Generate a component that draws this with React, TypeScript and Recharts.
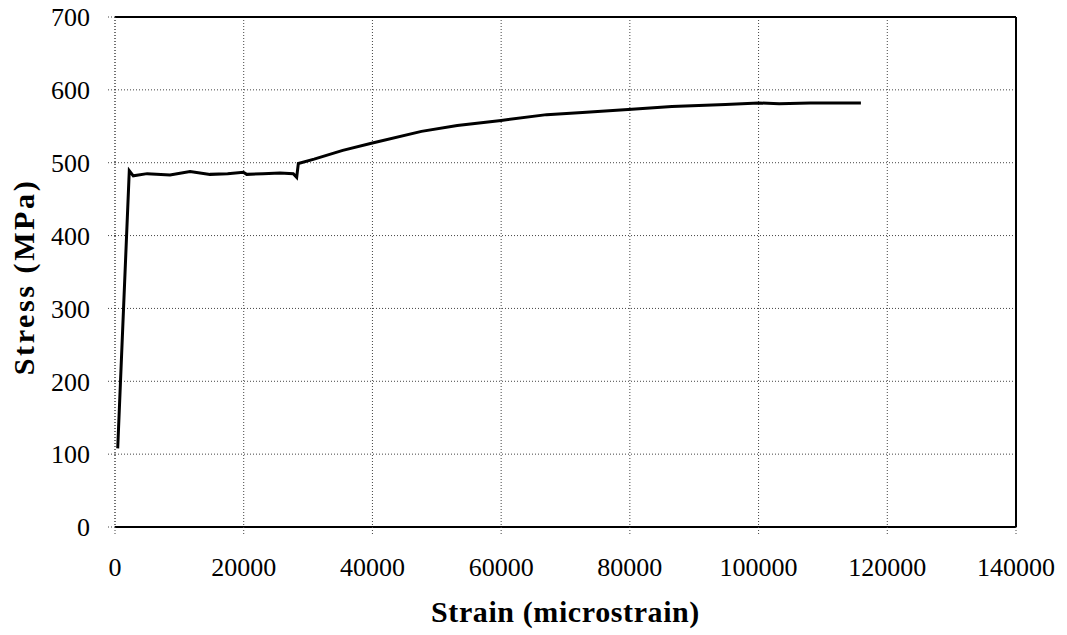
import React from 'react';
import {
  LineChart,
  Line,
  XAxis,
  YAxis,
  CartesianGrid,
  ReferenceLine,
  Label,
} from 'recharts';

// strain (microstrain) vs stress (MPa)
const strainValues = [
  420, 2220, 2840, 5000, 8550, 11660, 14760, 17500, 19940, 20470, 23000, 25640,
  27700, 28230, 28490, 30940, 35390, 40000, 47620, 53180, 60000, 67070, 72640,
  80300, 86530, 94870, 100000, 103200, 108000, 115900,
];
const stressValues = [
  108, 489, 482, 485, 483, 488, 484, 485, 487, 484, 485, 486,
  485, 480, 499, 505, 517, 527, 543, 551, 558, 566, 569,
  573.5, 577, 580, 582, 581, 582, 582,
];

const xTicks = [0, 20000, 40000, 60000, 80000, 100000, 120000, 140000];
const yTicks = [0, 100, 200, 300, 400, 500, 600, 700];

const FONT = "'Liberation Serif', 'Times New Roman', 'DejaVu Serif', serif";

const data = strainValues.map((s, i) => ({ strain: s, stress: stressValues[i] }));

const tickStyle = { fill: '#000', fontSize: 26 };

const XTitle = ({ viewBox }: any) => {
  const { x, y, width } = viewBox;
  return (
    <text
      x={x + width / 2}
      y={y + 95}
      textAnchor="middle"
      fontWeight="bold"
      fontSize={30}
      letterSpacing={0.6}
      fill="#000"
    >
      Strain (microstrain)
    </text>
  );
};

const YTitle = ({ viewBox }: any) => {
  const { x, y, height } = viewBox;
  const cx = x + 34;
  const cy = y + height / 2 + 5;
  return (
    <text
      x={cx}
      y={cy}
      transform={`rotate(-90, ${cx}, ${cy})`}
      textAnchor="middle"
      fontWeight="bold"
      fontSize={30}
      letterSpacing={2.6}
      fill="#000"
    >
      Stress (MPa)
    </text>
  );
};

export default function App() {
  return (
    <div style={{ position: 'absolute', left: 0, top: 0, background: '#fff' }}>
      <style>{`.stress-chart text { font-family: ${FONT} !important; }`}</style>
      <LineChart
        className="stress-chart"
        width={1067}
        height={635}
        data={data}
        margin={{ top: 17, right: 51, left: 0, bottom: 0 }}
      >
        <CartesianGrid
          stroke="#444"
          strokeDasharray="1 2"
          horizontalValues={yTicks}
          verticalValues={xTicks}
        />
        <XAxis
          dataKey="strain"
          type="number"
          domain={[0, 140000]}
          ticks={xTicks}
          interval={0}
          height={108}
          tick={tickStyle}
          tickSize={7}
          tickMargin={24}
          axisLine={{ stroke: '#000', strokeWidth: 2 }}
          tickLine={{ stroke: '#444', strokeDasharray: '1 2' }}
        >
          <Label content={<XTitle />} />
        </XAxis>
        <YAxis
          type="number"
          domain={[0, 700]}
          ticks={yTicks}
          interval={0}
          width={115}
          tick={tickStyle}
          tickSize={7}
          tickMargin={18}
          axisLine={{ stroke: '#444', strokeDasharray: '1 2' }}
          tickLine={{ stroke: '#444', strokeDasharray: '1 2' }}
        >
          <Label content={<YTitle />} />
        </YAxis>
        <ReferenceLine y={700} stroke="#000" strokeWidth={2} />
        <ReferenceLine x={140000} stroke="#000" strokeWidth={2} />
        <Line
          type="linear"
          dataKey="stress"
          stroke="#000"
          strokeWidth={3}
          dot={false}
          isAnimationActive={false}
        />
      </LineChart>
    </div>
  );
}
